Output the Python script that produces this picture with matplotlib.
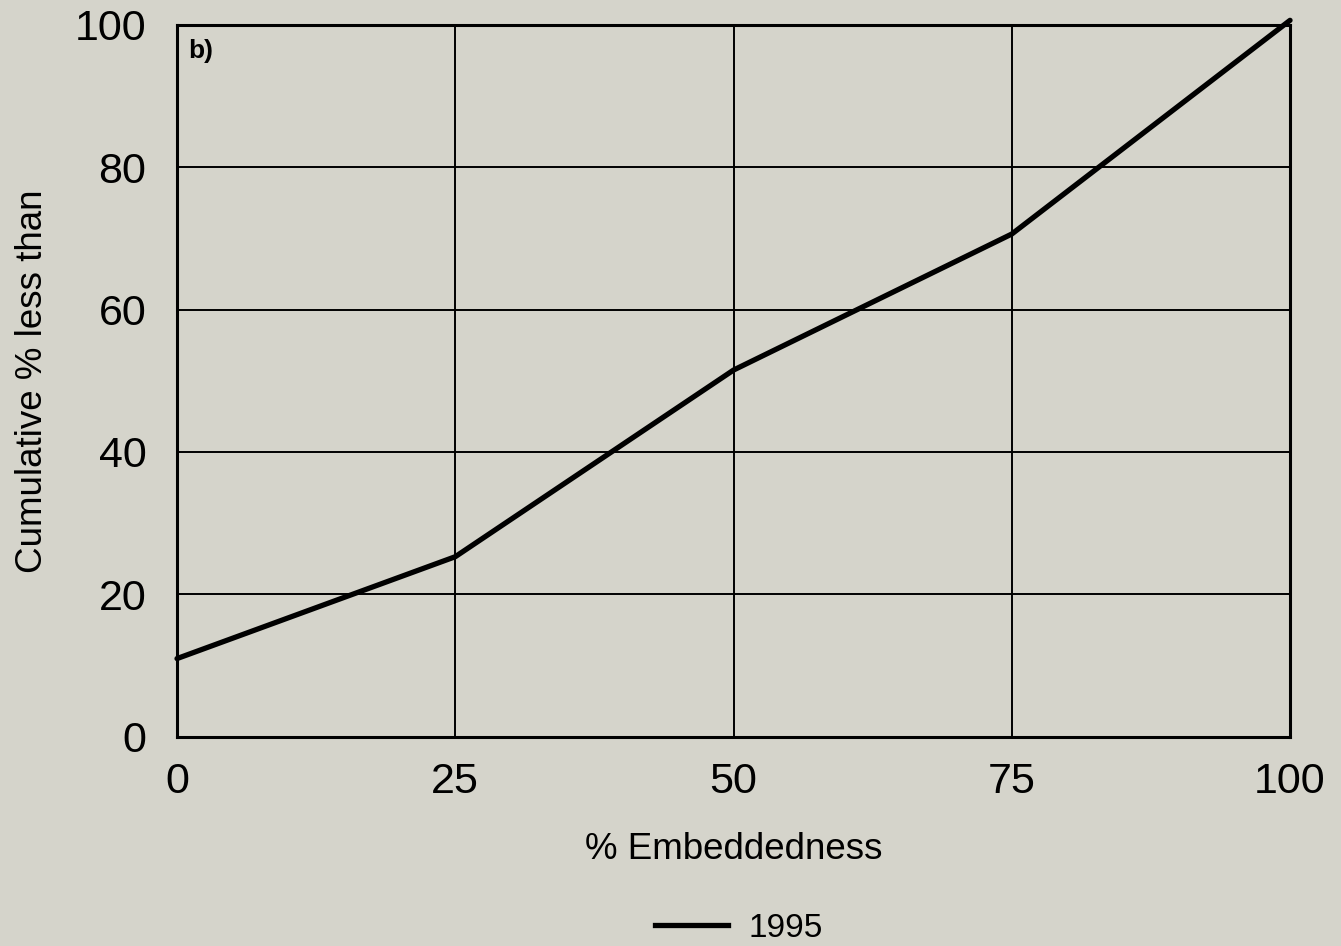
import matplotlib.pyplot as plt
from matplotlib.lines import Line2D

# values
embeddedness = [0, 25, 50, 75, 100]
cumulative_1995 = [11, 25.3, 51.5, 70.6, 100.6]
x_ticks = [0, 25, 50, 75, 100]
y_ticks = [0, 20, 40, 60, 80, 100]

bg = '#d5d4cb'
plt.rcParams['font.family'] = ['Liberation Sans', 'DejaVu Sans']

fig = plt.figure(figsize=(13.41, 9.46), dpi=100, facecolor=bg)
ax = fig.add_axes([0.132, 0.221, 0.830, 0.753])
ax.set_facecolor(bg)

ax.plot(embeddedness, cumulative_1995, color='black', linewidth=3.8,
        solid_capstyle='round', clip_on=False, label='1995')

ax.set_xlim(0, 100)
ax.set_ylim(0, 100)
ax.set_xticks(x_ticks)
ax.set_yticks(y_ticks)
ax.grid(True, color='black', linewidth=1.4)
ax.tick_params(length=0, labelsize=31)
ax.tick_params(axis='x', pad=18)
ax.tick_params(axis='y', pad=22)
for s in ax.spines.values():
    s.set_linewidth(2.2)

ax.set_xlabel('% Embeddedness', fontsize=26.5, labelpad=22)
ax.set_ylabel('Cumulative % less than', fontsize=26.5, labelpad=18)
ax.text(0.01, 0.98, 'b)', transform=ax.transAxes, fontsize=19,
        fontweight='bold', va='top', ha='left')

handle = Line2D([], [], color='black', linewidth=3.8)
fig.legend([handle], ['1995'], loc='center', bbox_to_anchor=(0.551, 0.019),
           frameon=False, fontsize=24, handlelength=2.2, handletextpad=0.6)

fig.savefig('out.png', dpi=100, facecolor=bg)
